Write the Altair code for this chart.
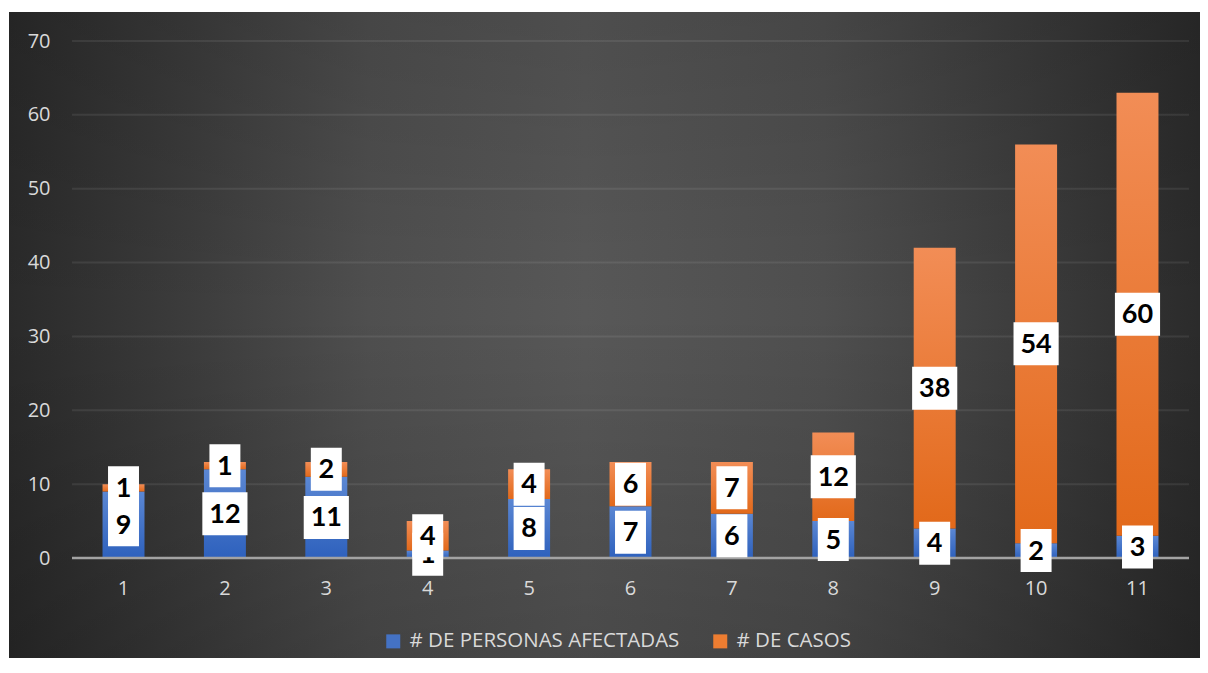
import altair as alt
import pandas as pd

categories = [1, 2, 3, 4, 5, 6, 7, 8, 9, 10, 11]
personas = [9, 12, 11, 1, 8, 7, 6, 5, 4, 2, 3]
casos = [1, 1, 2, 4, 4, 6, 7, 12, 38, 54, 60]
series_names = ["# DE PERSONAS AFECTADAS", "# DE CASOS"]
y_ticks = [0, 10, 20, 30, 40, 50, 60, 70]

rows = []
for c, p, k in zip(categories, personas, casos):
    rows.append(dict(cat=c, serie=series_names[0], start=0, end=p, mid=p / 2,
                     label=str(p), kind="d" if p >= 10 else "s"))
    rows.append(dict(cat=c, serie=series_names[1], start=p, end=p + k, mid=p + k / 2,
                     label=str(k), kind="d" if k >= 10 else "s"))
df = pd.DataFrame(rows)
grid_df = pd.DataFrame({"v": y_ticks})

W, H = 1117, 517
PAD = {"left": 64, "top": 33, "right": 11, "bottom": 100}

x_enc = alt.X("cat:O", scale=alt.Scale(paddingInner=0.586, paddingOuter=0.301),
              axis=alt.Axis(title=None, labelAngle=0, ticks=False, labelPadding=20,
                            labelFont="Open Sans", labelFontSize=20, labelColor="#d9d9d9",
                            domain=False, grid=False, zindex=1))
y_scale = alt.Scale(domain=[0, 70], nice=False)
y_axis = alt.Axis(title=None, values=y_ticks, ticks=False, domain=False, labelPadding=22,
                  labelFont="Open Sans", labelFontSize=20, labelColor="#d9d9d9",
                  grid=False, zindex=1)

# background panel
bg_h = {"gradient": "linear", "x1": 0, "y1": 0, "x2": 1, "y2": 0,
        "stops": [{"offset": 0, "color": "#2a2a2a"}, {"offset": 0.15, "color": "#3c3c3c"},
                  {"offset": 0.3, "color": "#4f4f4f"}, {"offset": 0.48, "color": "#585858"},
                  {"offset": 0.68, "color": "#4f4f4f"}, {"offset": 0.85, "color": "#3c3c3c"},
                  {"offset": 1, "color": "#2a2a2a"}]}
bg_v = {"gradient": "linear", "x1": 0, "y1": 0, "x2": 0, "y2": 1,
        "stops": [{"offset": 0, "color": "rgba(0,0,0,0.12)"}, {"offset": 0.45, "color": "rgba(0,0,0,0)"},
                  {"offset": 1, "color": "rgba(0,0,0,0.18)"}]}
bg_data = pd.DataFrame({"k": [0]})
bg1 = alt.Chart(bg_data).mark_rect(fill=bg_h).encode(
    x=alt.value(-63), x2=alt.value(1136), y=alt.value(-29), y2=alt.value(640))
bg2 = alt.Chart(bg_data).mark_rect(fill=bg_v).encode(
    x=alt.value(-63), x2=alt.value(1136), y=alt.value(-29), y2=alt.value(640))

grid = alt.Chart(grid_df).transform_filter(alt.datum.v > 0).mark_rule(
    color="#ffffff", opacity=0.08, strokeWidth=2).encode(
    y=alt.Y("v:Q", scale=y_scale), x=alt.value(0), x2=alt.value(W))
zero = alt.Chart(grid_df).transform_filter(alt.datum.v == 0).mark_rule(
    color="#a3a3a3", strokeWidth=2.5).encode(
    y=alt.Y("v:Q", scale=y_scale), x=alt.value(0), x2=alt.value(W))

base = alt.Chart(df)

blue_grad = {"gradient": "linear", "x1": 0, "y1": 0, "x2": 0, "y2": 1,
             "stops": [{"offset": 0, "color": "#5b87d3"}, {"offset": 1, "color": "#2e61bd"}]}
orange_grad = {"gradient": "linear", "x1": 0, "y1": 0, "x2": 0, "y2": 1,
               "stops": [{"offset": 0, "color": "#f28d56"}, {"offset": 1, "color": "#e2691a"}]}

bars_blue = base.transform_filter(alt.datum.serie == series_names[0]).mark_bar(fill=blue_grad).encode(
    x=x_enc, y=alt.Y("start:Q", scale=y_scale, axis=y_axis), y2="end:Q")
bars_orange = base.transform_filter(alt.datum.serie == series_names[1]).mark_bar(fill=orange_grad).encode(
    x="cat:O", y="start:Q", y2="end:Q")

legend_layer = base.mark_square(opacity=0).encode(
    x="cat:O", y="end:Q",
    color=alt.Color("serie:N", sort=series_names,
                    scale=alt.Scale(domain=series_names, range=["#4472c4", "#ed7d31"]),
                    legend=alt.Legend(title=None, orient="none", legendX=311, legendY=590,
                                      direction="horizontal", symbolType="square", symbolSize=196,
                                      symbolOpacity=1, symbolStrokeWidth=0, labelFont="Open Sans",
                                      labelFontSize=20.5, labelColor="#d9d9d9", columnPadding=30,
                                      labelOffset=6, padding=0, labelLimit=400)))

path_s = "M-0.72,-1L0.72,-1L0.72,1L-0.72,1Z"
path_d = "M-1.05,-1L1.05,-1L1.05,1L-1.05,1Z"

def label_layers(name):
    sub = base.transform_filter(alt.datum.serie == name)
    boxes = sub.mark_point(filled=True, color="white", opacity=1, strokeWidth=0).encode(
        x="cat:O", y="mid:Q",
        shape=alt.Shape("kind:N", scale=alt.Scale(domain=["s", "d"], range=[path_s, path_d]), legend=None),
        size=alt.value(1849))
    texts = sub.mark_text(font="Lato", fontWeight="bold", fontSize=27, color="black",
                          baseline="middle", align="center", dy=1).encode(
        x="cat:O", y="mid:Q", text="label:N")
    return [boxes, texts]

layers = [bg1, bg2, grid, bars_blue, bars_orange, zero, legend_layer] + \
    label_layers(series_names[0]) + label_layers(series_names[1])

chart = alt.layer(*layers).properties(
    width=W, height=H, padding=PAD, autosize=alt.AutoSizeParams(type="none"),
    background="white"
).configure_view(stroke=None)

chart.save("out.html", embed_options={"renderer": "svg", "actions": False})
